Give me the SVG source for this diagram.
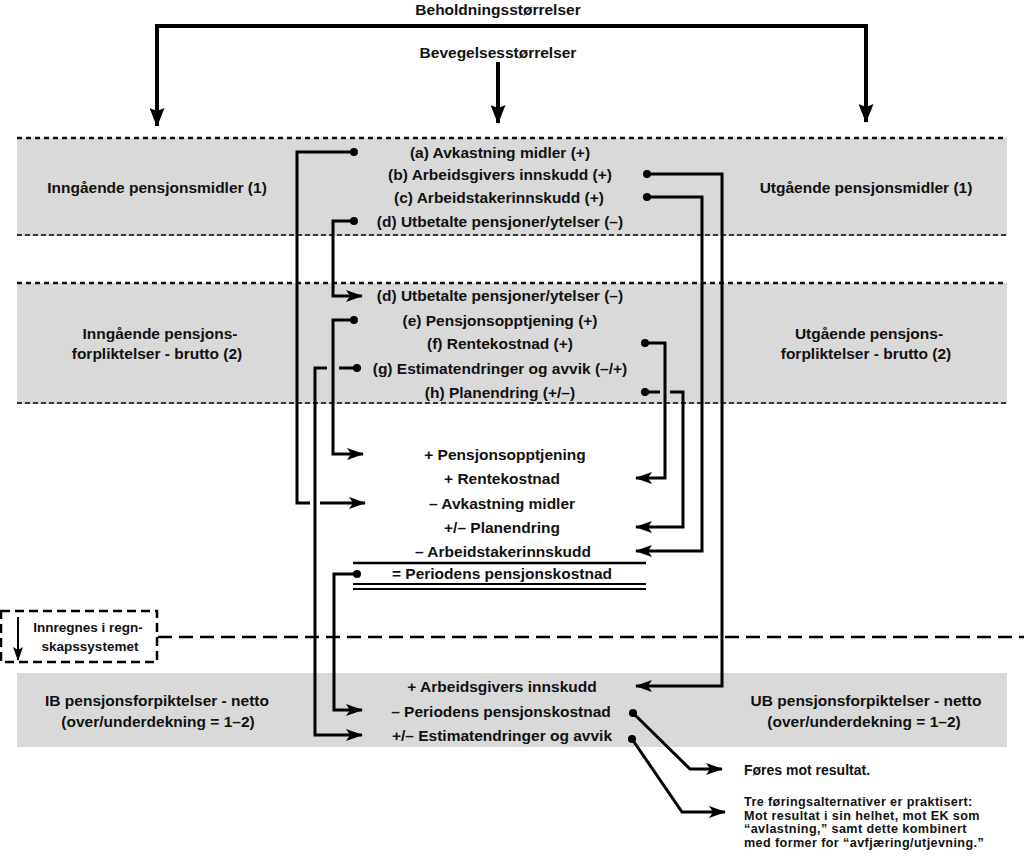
<svg xmlns="http://www.w3.org/2000/svg" width="1024" height="861" viewBox="0 0 1024 861">
<style>
.t{font-family:"Liberation Sans",Arial,sans-serif;font-weight:bold;font-size:15.5px;fill:#111;text-anchor:middle}
.n{font-family:"Liberation Sans",Arial,sans-serif;font-weight:bold;font-size:14px;fill:#111}
.m{font-family:"Liberation Sans",Arial,sans-serif;font-weight:bold;font-size:12.6px;letter-spacing:0.4px;fill:#111}
.s{font-family:"Liberation Sans",Arial,sans-serif;font-weight:bold;font-size:13.5px;fill:#111;text-anchor:middle}
.band{fill:#d9d9d9}
.dash{stroke:#111;stroke-width:2.5;stroke-dasharray:5 4;fill:none}
.dash2{stroke:#333;stroke-width:2;stroke-dasharray:5 3;fill:none}
.c{stroke:#000;stroke-width:3;fill:none}
.ca{stroke:#000;stroke-width:3;fill:none;marker-end:url(#ah)}
.big{stroke:#000;stroke-width:4;fill:none;marker-end:url(#bh)}
.dot{fill:#000}
.heavy{stroke:#000;stroke-width:2.5;stroke-dasharray:14 7;fill:none}
</style>
<defs>
<marker id="ah" markerUnits="userSpaceOnUse" markerWidth="17" markerHeight="12" refX="16" refY="6" orient="auto">
<path d="M0,0 L17,6 L0,12 L4,6 Z" fill="#000"/>
</marker>
<marker id="bh" markerUnits="userSpaceOnUse" markerWidth="19" markerHeight="15" refX="18" refY="7.5" orient="auto">
<path d="M0,0 L19,7.5 L0,15 L3,7.5 Z" fill="#000"/>
</marker>
<marker id="sh" markerUnits="userSpaceOnUse" markerWidth="14" markerHeight="10" refX="13" refY="5" orient="auto">
<path d="M0,0 L14,5 L0,10 L3,5 Z" fill="#000"/>
</marker>
</defs>

<g id="bands">
<rect class="band" x="17" y="138" width="990" height="98"/>
<rect class="band" x="17" y="283" width="990" height="121"/>
<rect class="band" x="17" y="673" width="990" height="74"/>
<line class="dash" x1="17" y1="138" x2="1007" y2="138"/>
<line class="dash2" x1="17" y1="235" x2="1007" y2="235"/>
<line class="dash" x1="17" y1="283" x2="1007" y2="283"/>
<line class="dash2" x1="17" y1="403" x2="1007" y2="403"/>
</g>

<g id="header">
<text class="t" x="498" y="14.5">Beholdningsstørrelser</text>
<text class="t" x="498" y="57.5">Bevegelsesstørrelser</text>
</g>

<g id="assets-in"><text class="t" x="157" y="192.5">Inngående pensjonsmidler (1)</text></g>
<g id="assets-out"><text class="t" x="866" y="192.5">Utgående pensjonsmidler (1)</text></g>
<g id="obl-in"><text class="t" x="160" y="338.5">Inngående pensjons-</text><text class="t" x="157" y="358.5">forpliktelser - brutto (2)</text></g>
<g id="obl-out"><text class="t" x="869" y="338.5">Utgående pensjons-</text><text class="t" x="866" y="358.5">forpliktelser - brutto (2)</text></g>
<g id="net-in"><text class="t" x="157" y="705.5">IB pensjonsforpiktelser - netto</text><text class="t" x="158" y="726.5">(over/underdekning = 1–2)</text></g>
<g id="net-out"><text class="t" x="866" y="705.5">UB pensjonsforpiktelser - netto</text><text class="t" x="864" y="726.5">(over/underdekning = 1–2)</text></g>

<g id="asset-items">
<text class="t" x="500" y="157.5">(a) Avkastning midler (+)</text>
<text class="t" x="500" y="179.5">(b) Arbeidsgivers innskudd (+)</text>
<text class="t" x="499" y="202.5">(c) Arbeidstakerinnskudd (+)</text>
<text class="t" x="500" y="226.5">(d) Utbetalte pensjoner/ytelser (–)</text>
</g>

<g id="obl-items">
<text class="t" x="500" y="300.5">(d) Utbetalte pensjoner/ytelser (–)</text>
<text class="t" x="500" y="325.5">(e) Pensjonsopptjening (+)</text>
<text class="t" x="500" y="348.5">(f) Rentekostnad (+)</text>
<text class="t" x="500" y="373.5">(g) Estimatendringer og avvik (–/+)</text>
<text class="t" x="500" y="397.5">(h) Planendring (+/–)</text>
</g>

<g id="cost-sum">
<text class="t" x="505" y="459.5">+ Pensjonsopptjening</text>
<text class="t" x="502" y="483.5">+ Rentekostnad</text>
<text class="t" x="502" y="508.5">– Avkastning midler</text>
<text class="t" x="502" y="532.5">+/– Planendring</text>
<text class="t" x="503" y="556.5">– Arbeidstakerinnskudd</text>
<line x1="353" y1="563" x2="646" y2="563" stroke="#000" stroke-width="2.5"/>
<text class="t" x="502" y="578.5">= Periodens pensjonskostnad</text>
<line x1="353" y1="584" x2="646" y2="584" stroke="#000" stroke-width="2"/>
<line x1="353" y1="589" x2="646" y2="589" stroke="#000" stroke-width="2"/>
</g>

<g id="net-items">
<text class="t" x="502" y="691.5">+ Arbeidsgivers innskudd</text>
<text class="t" x="501" y="716.5">– Periodens pensjonskostnad</text>
<text class="t" x="502" y="740.5">+/– Estimatendringer og avvik</text>
</g>

<g id="recognize">
<line class="heavy" x1="158" y1="637" x2="1024" y2="637"/>
<rect x="1" y="611" width="156" height="51" fill="#fff" stroke="#000" stroke-width="2.5" stroke-dasharray="9 5"/>
<line x1="18" y1="617" x2="18" y2="660" stroke="#000" stroke-width="2" marker-end="url(#sh)"/>
<text class="s" x="88" y="632">Innregnes i regn-</text>
<text class="s" x="90" y="651">skapssystemet</text>
</g>

<g id="notes">
<text class="n" x="744" y="775">Føres mot resultat.</text>
<text class="m" x="744" y="806">Tre føringsalternativer er praktisert:</text>
<text class="m" x="744" y="819.5">Mot resultat i sin helhet, mot EK som</text>
<text class="m" x="744" y="833">“avlastning,” samt dette kombinert</text>
<text class="m" x="744" y="846.5">med former for “avfjæring/utjevning.”</text>
</g>

<g id="connectors">
<path class="big" d="M498,26 H157 V126"/>
<path class="big" d="M498,26 H866 V122"/>
<path class="big" d="M498,62 V123"/>
<!-- (a) -->
<path class="c" d="M354,152 H297 V503 H310"/>
<path class="ca" d="M320,503 H365"/>
<!-- (d) -->
<path class="ca" d="M354,221 H333 V296 H362"/>
<!-- (b) -->
<path class="ca" d="M647,174 H722 V686 H636"/>
<!-- (c) -->
<path class="ca" d="M647,197 H702 V551 H636"/>
<!-- (e) -->
<path class="ca" d="M354,320 H333 V454 H363"/>
<!-- (f) -->
<path class="ca" d="M645,343 H665 V478 H636"/>
<!-- (g) -->
<path class="c" d="M357,368 H339"/>
<path class="ca" d="M327,368 H315 V735 H362"/>
<!-- (h) -->
<path class="c" d="M645,392 H660"/>
<path class="ca" d="M670,392 H683 V527 H636"/>
<!-- periodens -->
<path class="ca" d="M357,574 H334 V710 H362"/>
<!-- results -->
<path class="ca" d="M633,713 L690,769 H722"/>
<path class="ca" d="M632,739 L682,812 H725"/>
<circle class="dot" cx="354" cy="152" r="4"/>
<circle class="dot" cx="647" cy="174" r="4"/>
<circle class="dot" cx="647" cy="197" r="4"/>
<circle class="dot" cx="354" cy="221" r="4"/>
<circle class="dot" cx="354" cy="320" r="4"/>
<circle class="dot" cx="645" cy="343" r="4"/>
<circle class="dot" cx="357" cy="368" r="4"/>
<circle class="dot" cx="645" cy="392" r="4"/>
<circle class="dot" cx="357" cy="574" r="4"/>
<circle class="dot" cx="633" cy="713" r="4"/>
<circle class="dot" cx="632" cy="739" r="4"/>
</g>
</svg>
